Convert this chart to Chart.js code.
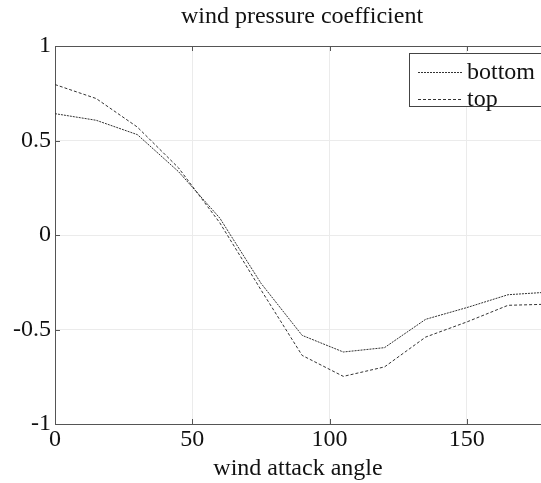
<!DOCTYPE html>
<html>
<head>
<meta charset="utf-8">
<script src="https://cdn.jsdelivr.net/npm/chart.js@4/dist/chart.umd.min.js"></script>
<style>
  html, body { margin: 0; padding: 0; background: #fff; }
  #wrap { width: 541px; height: 483px; }
</style>
</head>
<body>
<div id="wrap"><canvas id="cp"></canvas></div>
<script>
const CHART_TITLE = "wind pressure coefficient";
const X_TITLE = "wind attack angle";
const ANGLES = [0, 15, 30, 45, 60, 75, 90, 105, 120, 135, 150, 165, 180];
const BOTTOM_CP = [0.642, 0.607, 0.531, 0.335, 0.09, -0.255, -0.531, -0.619, -0.596, -0.446, -0.384, -0.316, -0.302];
const TOP_CP = [0.796, 0.722, 0.571, 0.355, 0.065, -0.29, -0.637, -0.748, -0.698, -0.54, -0.46, -0.372, -0.366];
const SERIES_LABELS = ["bottom", "top"];
const X_TICKS = [0, 50, 100, 150];
const Y_TICKS = [-1, -0.5, 0, 0.5, 1];
const FONT = "'Liberation Serif', 'DejaVu Serif', serif";

function toPoints(xs, ys) {
    return xs.map((x, i) => ({ x: x, y: ys[i] }));
}

// box, inward ticks, title and legend drawn like the matlab figure
const figurePlugin = {
    id: "figure",
    afterDraw(chart) {
        const ctx = chart.ctx;
        const area = chart.chartArea;
        const xs = chart.scales.x;
        const ys = chart.scales.y;
        ctx.save();

        // top border + inward ticks
        ctx.strokeStyle = "#555";
        ctx.lineWidth = 1;
        ctx.beginPath();
        ctx.moveTo(area.left, area.top + 0.5);
        ctx.lineTo(area.right, area.top + 0.5);
        ctx.stroke();
        ctx.beginPath();
        X_TICKS.forEach((v) => {
            let px = Math.round(xs.getPixelForValue(v)) + 0.5;
            ctx.moveTo(px, area.bottom);
            ctx.lineTo(px, area.bottom - 5);
            ctx.moveTo(px, area.top);
            ctx.lineTo(px, area.top + 5);
        });
        Y_TICKS.forEach((v) => {
            let py = Math.round(ys.getPixelForValue(v)) + 0.5;
            ctx.moveTo(area.left, py);
            ctx.lineTo(area.left + 5, py);
        });
        ctx.stroke();

        // title
        ctx.fillStyle = "#111";
        ctx.font = "24px " + FONT;
        ctx.textAlign = "center";
        ctx.textBaseline = "middle";
        ctx.fillText(CHART_TITLE, 302, 17);

        // legend box
        let bx = 409.5, by = 53.5, bw = 140, bh = 53;
        ctx.fillStyle = "#fff";
        ctx.fillRect(bx, by, bw, bh);
        ctx.strokeStyle = "#444";
        ctx.strokeRect(bx, by, bw, bh);
        ctx.font = "24px " + FONT;
        ctx.textAlign = "left";
        chart.data.datasets.forEach((ds, i) => {
            let ly = 72.5 + i * 27;
            ctx.strokeStyle = ds.borderColor;
            ctx.setLineDash(ds.borderDash);
            ctx.beginPath();
            ctx.moveTo(418, ly);
            ctx.lineTo(462, ly);
            ctx.stroke();
            ctx.setLineDash([]);
            ctx.fillStyle = "#111";
            ctx.fillText(ds.label, 467, ly);
        });
        ctx.restore();
    }
};

new Chart(document.getElementById("cp"), {
    type: "line",
    data: {
        datasets: [
            {
                label: SERIES_LABELS[0],
                data: toPoints(ANGLES, BOTTOM_CP),
                borderColor: "#333",
                borderWidth: 1,
                borderDash: [2, 1],
                pointRadius: 0,
                tension: 0
            },
            {
                label: SERIES_LABELS[1],
                data: toPoints(ANGLES, TOP_CP),
                borderColor: "#333",
                borderWidth: 1,
                borderDash: [3, 2],
                pointRadius: 0,
                tension: 0
            }
        ]
    },
    options: {
        responsive: true,
        maintainAspectRatio: false,
        animation: false,
        layout: { padding: { top: 46, right: 0, left: 0, bottom: 0 } },
        plugins: {
            legend: { display: false },
            title: { display: false },
            tooltip: { enabled: false }
        },
        scales: {
            x: {
                type: "linear",
                min: 0,
                max: 177,
                afterBuildTicks: (s) => { s.ticks = X_TICKS.map(v => ({ value: v })); },
                afterFit: (s) => { s.height = 59; },
                grid: { color: "#ebebeb", drawTicks: false },
                border: { color: "#555" },
                ticks: {
                    color: "#111",
                    font: { family: FONT, size: 24 },
                    padding: 1,
                    maxRotation: 0,
                    callback: (v) => String(v)
                },
                title: {
                    display: true,
                    text: X_TITLE,
                    color: "#111",
                    font: { family: FONT, size: 24 },
                    padding: { top: -8, bottom: 0 }
                }
            },
            y: {
                min: -1,
                max: 1,
                afterBuildTicks: (s) => { s.ticks = Y_TICKS.map(v => ({ value: v })); },
                afterFit: (s) => { s.width = 55; },
                grid: { color: "#ebebeb", drawTicks: false },
                border: { color: "#555" },
                ticks: {
                    color: "#111",
                    font: { family: FONT, size: 24 },
                    padding: 4,
                    callback: (v) => String(v)
                }
            }
        }
    },
    plugins: [figurePlugin]
});
</script>
</body>
</html>
